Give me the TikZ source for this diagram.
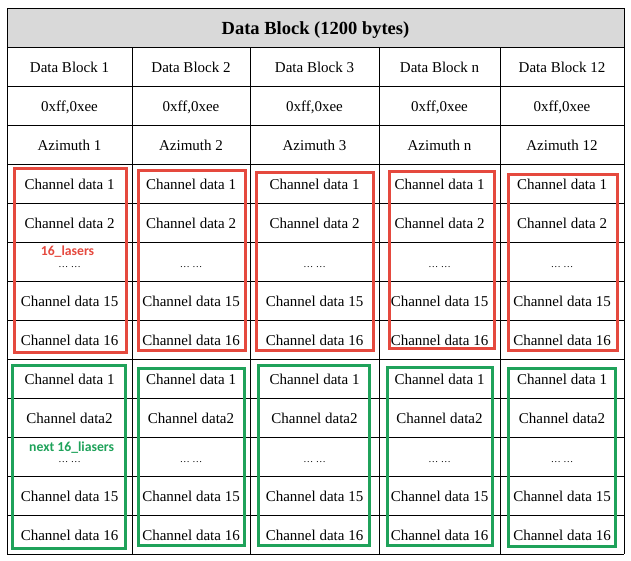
\documentclass[tikz,border=0pt]{standalone}
\usepackage{fontspec}
\setmainfont{Liberation Serif}
\newfontfamily\labelfont{Carlito}
\definecolor{boxred}{HTML}{E5493E}
\definecolor{boxgreen}{HTML}{1FA25A}
\definecolor{headgray}{HTML}{D9D9D9}
\begin{document}
\begin{tikzpicture}[x=1pt,y=-1pt,
  cell/.style={font=\fontsize{15}{17}\selectfont, inner sep=0pt, anchor=base},
  dots/.style={font=\fontsize{10}{12}\selectfont, inner sep=0pt, anchor=base,
    text height=1.5pt, text depth=0pt},
  title/.style={font=\bfseries\fontsize{18.5}{21}\selectfont, inner sep=0pt, anchor=base},
  grid/.style={draw=black, line width=0.9pt},
  redbox/.style={draw=boxred, line width=3pt},
  greenbox/.style={draw=boxgreen, line width=3pt},
  tag/.style={font=\labelfont\bfseries\fontsize{13.7}{15}\selectfont, inner sep=0pt, anchor=base}]
\useasboundingbox (0,0) rectangle (631,560);

% header band
\fill[headgray] (7,8) rectangle (624,47);
\node[title] (title) at (315.5,34.3) {Data Block (1200 bytes)};

% horizontal rules
\foreach \y in {8,47,86,125,164,203,242,281,320,359,398,437,476,515,554}
  \draw[grid] (7,\y) -- (624,\y);
% outer and column rules
\draw[grid] (7,8) -- (7,554);
\draw[grid] (624,8) -- (624,554);
\foreach \x in {132,250,379,500}
  \draw[grid] (\x,47) -- (\x,554);

% cell texts per column
\foreach \c/\xl/\xr/\k in {1/7/132/1, 2/132/250/2, 3/250/379/3, 4/379/500/n, 5/500/624/12} {
  \pgfmathsetmacro{\xm}{(\xl+\xr)/2}
  \node[cell] (blk-\c) at (\xm,72.5) {Data Block \k};
  \node[cell] (sync-\c) at (\xm,111.5) {0xff,0xee};
  \node[cell] (azi-\c) at (\xm,150.5) {Azimuth \k};
  % first group of channels
  \node[cell] (a1-\c) at (\xm,189.5) {Channel data 1};
  \node[cell] (a2-\c) at (\xm,228.5) {Channel data 2};
  \node[dots] (a3-\c) at (\xm,267) {… …};
  \node[cell] (a15-\c) at (\xm,306.5) {Channel data 15};
  \node[cell] (a16-\c) at (\xm,345.5) {Channel data 16};
  % second group of channels
  \node[cell] (b1-\c) at (\xm,384.5) {Channel data 1};
  \node[cell] (b2-\c) at (\xm,423.5) {Channel data2};
  \node[dots] (b3-\c) at (\xm,462) {… …};
  \node[cell] (b15-\c) at (\xm,501.5) {Channel data 15};
  \node[cell] (b16-\c) at (\xm,540.5) {Channel data 16};
}

% first 16 lasers
\draw[redbox] (14.5,168.5) rectangle (126.5,352.5);
\draw[redbox] (138.5,170.5) rectangle (245.5,350.5);
\draw[redbox] (256.5,172.5) rectangle (373.5,350.5);
\draw[redbox] (389.5,171.5) rectangle (494.5,348.5);
\draw[redbox] (508.5,174.5) rectangle (617.5,350.5);

% next 16 lasers
\draw[greenbox] (12.5,365.5) rectangle (125.5,548.5);
\draw[greenbox] (138.5,368.5) rectangle (244.5,545.5);
\draw[greenbox] (258.5,365.5) rectangle (369.5,545.5);
\draw[greenbox] (387.5,367.5) rectangle (492.5,545.5);
\draw[greenbox] (508.5,368.5) rectangle (615.5,546.5);

\node[tag, text=boxred] (tag-red) at (67.5,255.5) {16\_lasers};
\node[tag, text=boxgreen] (tag-green) at (71.7,451.8) {next 16\_liasers};
\end{tikzpicture}
\end{document}
